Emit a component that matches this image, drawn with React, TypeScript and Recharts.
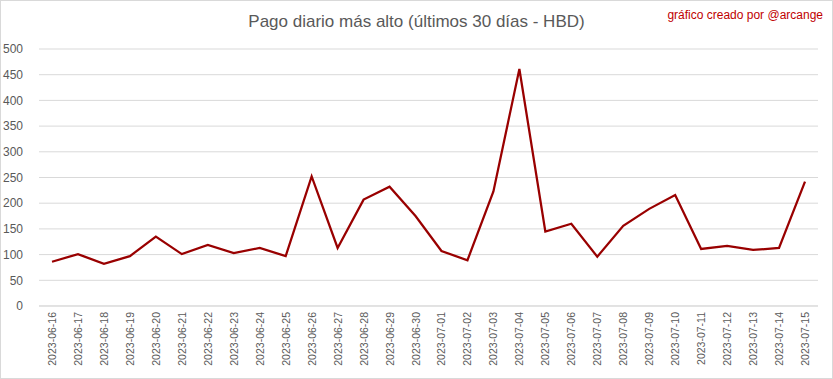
import React from "react";
import { LineChart, Line, XAxis, YAxis, CartesianGrid } from "recharts";

const DATES = [
  "2023-06-16", "2023-06-17", "2023-06-18", "2023-06-19", "2023-06-20",
  "2023-06-21", "2023-06-22", "2023-06-23", "2023-06-24", "2023-06-25",
  "2023-06-26", "2023-06-27", "2023-06-28", "2023-06-29", "2023-06-30",
  "2023-07-01", "2023-07-02", "2023-07-03", "2023-07-04", "2023-07-05",
  "2023-07-06", "2023-07-07", "2023-07-08", "2023-07-09", "2023-07-10",
  "2023-07-11", "2023-07-12", "2023-07-13", "2023-07-14", "2023-07-15",
];

const PAGO = [
  86, 101, 82, 97, 135, 101, 119, 103, 113, 97,
  252, 113, 207, 232, 175, 107, 89, 223, 461, 145,
  160, 96, 156, 189, 216, 111, 117, 109, 113, 242,
];

const Y_TICKS = [0, 50, 100, 150, 200, 250, 300, 350, 400, 450, 500];

const TITLE = "Pago diario más alto (últimos 30 días - HBD)";
const CREDIT = "gráfico creado por @arcange";

const data = DATES.map((d, i) => ({ fecha: d, pago: PAGO[i] }));

const FONT = "'Liberation Sans', Arial, sans-serif";

function DateTick({ x, y, payload }: any) {
  return (
    <g transform={`translate(${x},${y - 2})`}>
      <text
        x={0}
        y={0}
        dy={4}
        textAnchor="end"
        transform="rotate(-90)"
        fontSize={10.5}
        fill="#595959"
        fontFamily={FONT}
      >
        {payload.value}
      </text>
    </g>
  );
}

export default function App() {
  return (
    <div
      style={{
        position: "relative",
        width: 833,
        height: 379,
        boxSizing: "border-box",
        border: "1px solid #d9d9d9",
        background: "#fff",
        fontFamily: FONT,
      }}
    >
      <style>{"body{margin:0}"}</style>
      <div
        style={{
          position: "absolute",
          top: 11,
          left: 0,
          width: 831,
          textAlign: "center",
          fontSize: 17,
          color: "#595959",
        }}
      >
        {TITLE}
      </div>
      <div
        style={{
          position: "absolute",
          top: 7,
          right: 9,
          fontSize: 12,
          color: "#c00000",
        }}
      >
        {CREDIT}
      </div>
      <LineChart
        width={831}
        height={377}
        data={data}
        margin={{ top: 48, right: 14, left: 0, bottom: 0 }}
      >
        <CartesianGrid vertical={false} stroke="#d9d9d9" />
        <XAxis
          dataKey="fecha"
          interval={0}
          tickLine={false}
          axisLine={{ stroke: "#d9d9d9" }}
          height={72}
          padding={{ left: 13, right: 13 }}
          tick={<DateTick />}
        />
        <YAxis
          type="number"
          domain={[0, 500]}
          ticks={Y_TICKS}
          width={38}
          axisLine={false}
          tickLine={false}
          tickMargin={10}
          tick={{ fontSize: 12, fill: "#595959", fontFamily: FONT }}
        />
        <Line
          type="linear"
          dataKey="pago"
          stroke="#990000"
          strokeWidth={2.25}
          dot={false}
          isAnimationActive={false}
        />
      </LineChart>
    </div>
  );
}
